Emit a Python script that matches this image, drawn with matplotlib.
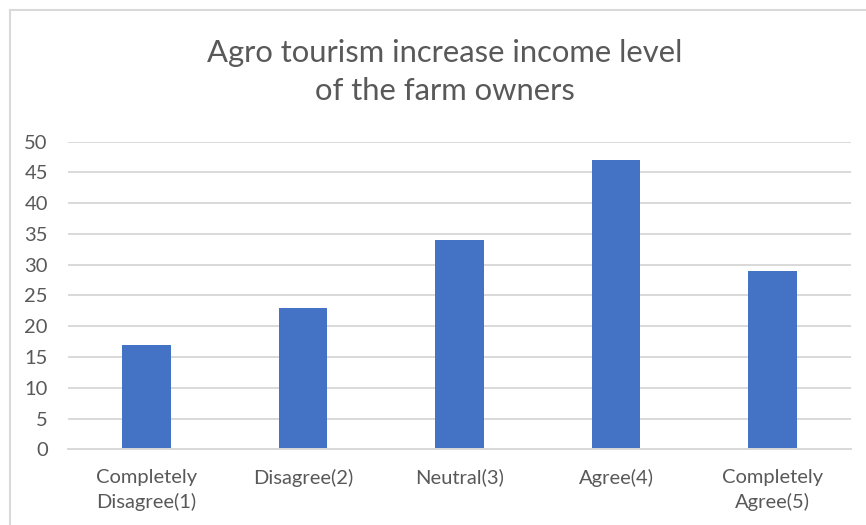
import matplotlib
matplotlib.use("Agg")
import matplotlib.pyplot as plt
from matplotlib.lines import Line2D

# survey responses on a five point scale
categories = ["Completely\nDisagree(1)", "Disagree(2)", "Neutral(3)", "Agree(4)", "Completely\nAgree(5)"]
counts = [17, 23, 34, 47, 29]
y_ticks = [0, 5, 10, 15, 20, 25, 30, 35, 40, 45, 50]

BAR_COLOR = "#4472C4"
TEXT_COLOR = "#595959"
GRID_COLOR = "#D9D9D9"

plt.rcParams["font.family"] = ["Lato", "DejaVu Sans"]

fig = plt.figure(figsize=(8.66, 5.25), dpi=100)
ax = fig.add_axes([0.0785, 0.1442, 0.9042, 0.5859])

x = range(len(categories))
ax.bar(x, counts, width=0.31, color=BAR_COLOR, zorder=3)

ax.set_xlim(-0.5, len(categories) - 0.5)
ax.set_ylim(0, 50)
ax.set_yticks(y_ticks)
ax.set_yticklabels([str(t) for t in y_ticks])
ax.set_xticks(list(x))
ax.set_xticklabels(categories, linespacing=1.5)

ax.yaxis.grid(True, color=GRID_COLOR, linewidth=1.4, zorder=0)
ax.tick_params(axis="both", length=0, labelsize=14.5, labelcolor=TEXT_COLOR)
ax.tick_params(axis="y", pad=14.5)
ax.tick_params(axis="x", pad=14)
for side in ["top", "right", "left"]:
    ax.spines[side].set_visible(False)
ax.spines["bottom"].set_color(GRID_COLOR)
ax.spines["bottom"].set_linewidth(1.4)
ax.spines["bottom"].set_zorder(4)

fig.text(0.514, 0.863, "Agro tourism increase income level\nof the farm owners",
         ha="center", va="center", fontsize=22.3, color=TEXT_COLOR, linespacing=1.45)

# chart frame, only the top and left edges show
fig.add_artist(Line2D([10 / 866, 10 / 866], [0, 1 - 10 / 525], transform=fig.transFigure,
                      color="#D9D9D9", linewidth=1.5))
fig.add_artist(Line2D([10 / 866, 1], [1 - 10 / 525, 1 - 10 / 525], transform=fig.transFigure,
                      color="#D9D9D9", linewidth=1.5))

fig.savefig("out.png", dpi=100)
